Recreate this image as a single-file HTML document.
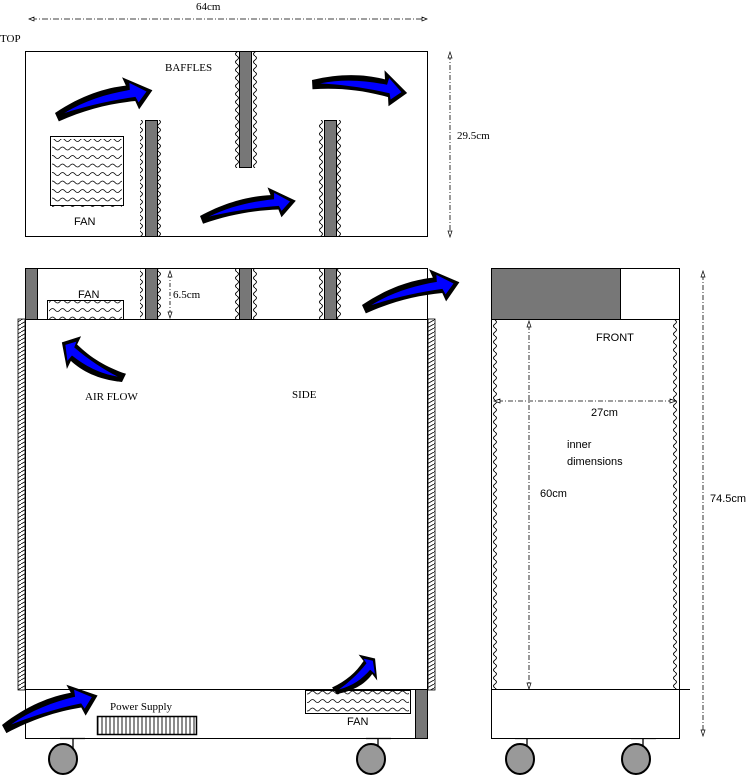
<!DOCTYPE html>
<html><head><meta charset="utf-8"><style>
html,body{margin:0;padding:0;background:#fff;}
svg{display:block;}
text{font-family:"Liberation Serif",serif;font-size:11px;fill:#000;}
.s{font-family:"Liberation Sans",sans-serif;font-size:11px;}
</style></head><body>
<svg width="754" height="776" viewBox="0 0 754 776" xmlns="http://www.w3.org/2000/svg">
<defs>
<pattern id="wv" width="6" height="8" patternUnits="userSpaceOnUse">
<path d="M3,0 Q6,2 3,4 Q0,6 3,8" fill="none" stroke="#000" stroke-width="0.9"/>
</pattern>
<pattern id="hz" width="10" height="8.5" patternUnits="userSpaceOnUse">
<path d="M0,4 Q2.5,1 5,4 Q7.5,7 10,4" fill="none" stroke="#000" stroke-width="0.8"/>
</pattern>
<pattern id="ht" width="7" height="4" patternUnits="userSpaceOnUse">
<path d="M0,4 L7,0" stroke="#000" stroke-width="0.8"/>
</pattern>
<pattern id="gr" width="4" height="20" patternUnits="userSpaceOnUse">
<path d="M2,0 V20" stroke="#000" stroke-width="0.9"/>
</pattern>
<g id="arr">
<path d="M0,0 C30,-12 55,-14 75,-12 L73,-21 L100,-2 L83,14 L81,5 C55,2 30,3 2,9 Z" fill="#000"/>
<path d="M9,2 C32,-6 55,-8 78,-7 L79,-14 L94,-2 L84,7 L82,1 C55,-1 30,0 9,2 Z" fill="#0000ff"/>
</g>
<g id="baf">
<rect x="-6" y="0" width="6" height="1" fill="none"/>
</g>
</defs>

<!-- top dimension -->
<line x1="31" y1="19" x2="425" y2="19" stroke="#000" stroke-width="0.8" stroke-dasharray="6,2,1,2"/>
<path d="M29,19 L34,17 L34,21 Z M427,19 L422,17 L422,21 Z" fill="#fff" stroke="#000" stroke-width="0.7"/>
<text x="196" y="10">64cm</text>
<text x="0" y="42">TOP</text>

<!-- top view -->
<rect x="25.5" y="51.5" width="402" height="185" fill="#fff" stroke="#000"/>
<text x="165" y="71">BAFFLES</text>
<rect x="50.5" y="136.5" width="73" height="69" fill="#fff" stroke="#000"/>
<rect x="52" y="139" width="70" height="68" fill="url(#hz)"/>
<text class="s" x="74" y="225">FAN</text>
<!-- baffles top -->
<rect x="140" y="120" width="6" height="117" fill="url(#wv)"/><rect x="157" y="120" width="6" height="117" fill="url(#wv)"/>
<rect x="145.5" y="120.5" width="12" height="116" fill="#777" stroke="#000"/>
<rect x="234" y="51" width="6" height="117" fill="url(#wv)"/><rect x="251" y="51" width="6" height="117" fill="url(#wv)"/>
<rect x="239.5" y="51.5" width="12" height="116" fill="#777" stroke="#000"/>
<rect x="318" y="120" width="6" height="117" fill="url(#wv)"/><rect x="336" y="120" width="6" height="117" fill="url(#wv)"/>
<rect x="324.5" y="120.5" width="12" height="116" fill="#777" stroke="#000"/>
<use href="#arr" transform="translate(55,113) rotate(-12)"/>
<use href="#arr" transform="translate(312,80) rotate(9) scale(0.96,1)"/>
<use href="#arr" transform="translate(200,216) rotate(-8) scale(0.97,0.9)"/>
<line x1="450" y1="55" x2="450" y2="233" stroke="#000" stroke-width="0.8" stroke-dasharray="5,2,1,2"/>
<path d="M450,52 L448,58 L452,58 Z M450,237 L448,231 L452,231 Z" fill="#fff" stroke="#000" stroke-width="0.7"/>
<text x="457" y="139">29.5cm</text>

<!-- side view top section -->
<rect x="25.5" y="268.5" width="402" height="51" fill="#fff" stroke="#000"/>
<rect x="25.5" y="268.5" width="12" height="51" fill="#777" stroke="#000"/>
<rect x="140" y="268" width="6" height="51" fill="url(#wv)"/><rect x="157" y="268" width="6" height="51" fill="url(#wv)"/>
<rect x="145.5" y="268.5" width="12" height="51" fill="#777" stroke="#000"/>
<rect x="234" y="268" width="6" height="51" fill="url(#wv)"/><rect x="251" y="268" width="6" height="51" fill="url(#wv)"/>
<rect x="239.5" y="268.5" width="12" height="51" fill="#777" stroke="#000"/>
<rect x="318" y="268" width="6" height="51" fill="url(#wv)"/><rect x="336" y="268" width="6" height="51" fill="url(#wv)"/>
<rect x="324.5" y="268.5" width="12" height="51" fill="#777" stroke="#000"/>
<text class="s" x="78" y="298">FAN</text>
<rect x="47.5" y="300.5" width="76" height="24" fill="#fff" stroke="#000"/>
<rect x="49" y="301" width="73" height="23" fill="url(#hz)"/>
<line x1="170" y1="274" x2="170" y2="314" stroke="#000" stroke-width="0.8" stroke-dasharray="4,2,1,2"/>
<path d="M170,271 L168,277 L172,277 Z M170,318 L168,312 L172,312 Z" fill="#fff" stroke="#000" stroke-width="0.7"/>
<text x="173" y="298">6.5cm</text>
<use href="#arr" transform="translate(362,305) rotate(-12)"/>

<!-- main body -->
<rect x="18" y="319" width="7" height="371" fill="url(#ht)" stroke="#000" stroke-width="0.8"/>
<rect x="428" y="319" width="7" height="371" fill="url(#ht)" stroke="#000" stroke-width="0.8"/>
<rect x="25.5" y="319.5" width="402" height="370" fill="#fff" stroke="#000"/>
<use href="#arr" transform="translate(122,382) rotate(215) scale(0.72,1)"/>
<text x="85" y="400">AIR FLOW</text>
<text x="292" y="398">SIDE</text>

<!-- bottom section -->
<rect x="25.5" y="689.5" width="402" height="49" fill="#fff" stroke="#000"/>
<rect x="415.5" y="689.5" width="12" height="49" fill="#777" stroke="#000"/>
<rect x="305.5" y="690.5" width="105" height="23" fill="#fff" stroke="#000"/>
<rect x="307" y="691" width="102" height="22" fill="url(#hz)"/>
<text class="s" x="347" y="725">FAN</text>
<text x="110" y="710">Power Supply</text>
<rect x="97.5" y="716.5" width="99" height="18" fill="url(#gr)" stroke="#000" stroke-width="1.5"/>
<use href="#arr" transform="translate(2,725) rotate(-16) scale(1,1)"/>
<use href="#arr" transform="translate(337,694) rotate(-45) scale(0.52,-0.9)"/>

<!-- wheels -->
<g stroke="#000" stroke-width="1.3">
<line x1="60" y1="738.5" x2="85" y2="738.5"/><line x1="73" y1="738" x2="73" y2="752"/>
<ellipse cx="63" cy="759" rx="14" ry="15" fill="#999" stroke-width="2"/>
<line x1="366" y1="738.5" x2="391" y2="738.5"/><line x1="378" y1="738" x2="378" y2="752"/>
<ellipse cx="371" cy="759" rx="14" ry="15" fill="#999" stroke-width="2"/>
<line x1="515" y1="738.5" x2="540" y2="738.5"/><line x1="527" y1="738" x2="527" y2="752"/>
<ellipse cx="520" cy="759" rx="14" ry="15" fill="#999" stroke-width="2"/>
<line x1="631" y1="738.5" x2="656" y2="738.5"/><line x1="643" y1="738" x2="643" y2="752"/>
<ellipse cx="636" cy="759" rx="14" ry="15" fill="#999" stroke-width="2"/>
</g>

<!-- front view -->
<rect x="491.5" y="268.5" width="188" height="470" fill="#fff" stroke="#000"/>
<rect x="491.5" y="268.5" width="129" height="51" fill="#777" stroke="#000"/>
<line x1="491" y1="319.5" x2="680" y2="319.5" stroke="#000"/>
<line x1="491" y1="689.5" x2="690" y2="689.5" stroke="#000"/>
<rect x="492" y="320" width="6" height="369" fill="url(#wv)"/>
<rect x="672" y="320" width="6" height="369" fill="url(#wv)"/>
<line x1="529" y1="325" x2="529" y2="685" stroke="#000" stroke-width="0.8" stroke-dasharray="5,2,1,2"/>
<path d="M529,321 L527,327 L531,327 Z M529,689 L527,683 L531,683 Z" fill="#fff" stroke="#000" stroke-width="0.7"/>
<line x1="498" y1="401" x2="672" y2="401" stroke="#000" stroke-width="0.8" stroke-dasharray="5,2,1,2"/>
<path d="M494,401 L500,399 L500,403 Z M676,401 L670,399 L670,403 Z" fill="#fff" stroke="#000" stroke-width="0.7"/>
<text class="s" x="596" y="341">FRONT</text>
<text class="s" x="591" y="416">27cm</text>
<text class="s" x="567" y="448">inner</text>
<text class="s" x="567" y="465">dimensions</text>
<text class="s" x="540" y="497">60cm</text>
<line x1="703" y1="275" x2="703" y2="732" stroke="#000" stroke-width="0.8" stroke-dasharray="5,2,1,2"/>
<path d="M703,271 L701,277 L705,277 Z M703,736 L701,730 L705,730 Z" fill="#fff" stroke="#000" stroke-width="0.7"/>
<text class="s" x="710" y="502">74.5cm</text>
</svg>
</body></html>
